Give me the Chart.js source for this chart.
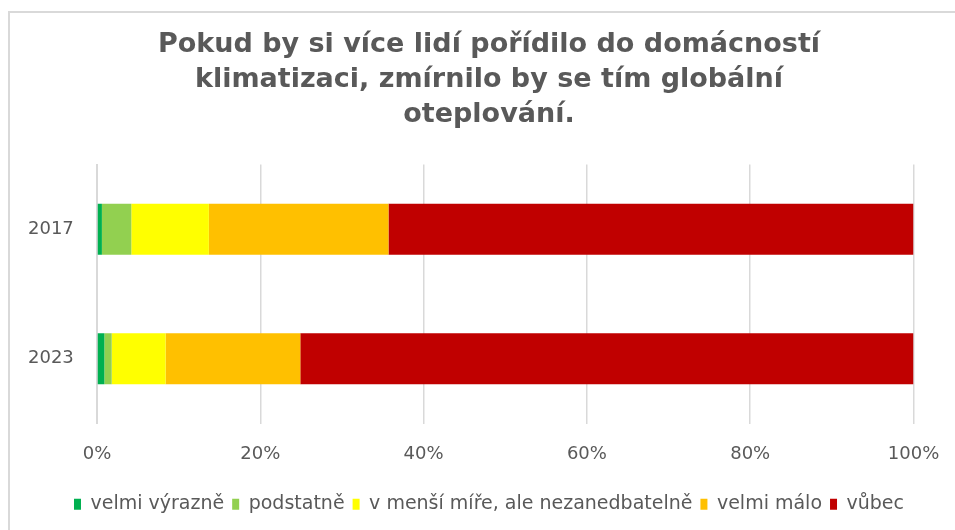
<!DOCTYPE html>
<html lang="cs">
<head>
<meta charset="utf-8">
<title>Klimatizace a globální oteplování</title>
<script src="https://cdn.jsdelivr.net/npm/chart.js@4/dist/chart.umd.min.js"></script>
<style>
  html, body { margin: 0; padding: 0; background: #ffffff; overflow: hidden; }
  #wrap { position: relative; width: 955px; height: 530px; }
  #frame { position: absolute; left: 8px; top: 11px; width: 1000px; height: 600px;
           border: 2px solid #d9d9d9; box-sizing: border-box; }
  #chart { position: absolute; left: 0; top: 0; }
</style>
</head>
<body>
<div id="wrap">
  <div id="frame"></div>
  <canvas id="chart" width="955" height="530"></canvas>
</div>
<script>
// Survey years (rows of the stacked bar chart)
const years = ['2017', '2023'];

// Answer shares in percent, one array per answer, ordered as the years above
const velmiVyrazne = [0.6, 0.9];
const podstatne    = [3.6, 0.9];
const vMensiMire   = [9.5, 6.6];
const velmiMalo    = [22.0, 16.5];
const vubec        = [64.3, 75.1];

const seriesNames  = ['velmi výrazně', 'podstatně', 'v menší míře, ale nezanedbatelně', 'velmi málo', 'vůbec'];
const seriesValues = [velmiVyrazne, podstatne, vMensiMire, velmiMalo, vubec];
const seriesColors = ['#00B050', '#92D050', '#FFFF00', '#FFC000', '#C00000'];

const titleLines = ['Pokud by si více lidí pořídilo do domácností',
                    'klimatizaci, zmírnilo by se tím globální',
                    'oteplování.'];

const textColor = '#595959';
const gridColor = '#d9d9d9';
const baseFont = 'DejaVu Sans';

const datasets = seriesNames.map((name, i) => ({
  label: name,
  data: seriesValues[i],
  backgroundColor: seriesColors[i],
  borderWidth: 0,
  categoryPercentage: 0.392,
  barPercentage: 1.0
}));

new Chart(document.getElementById('chart'), {
  type: 'bar',
  data: { labels: years, datasets },
  options: {
    indexAxis: 'y',
    responsive: false,
    animation: false,
    layout: { padding: { left: 64.5, right: 41.5, top: 0, bottom: 6.25 } },
    plugins: {
      tooltip: { enabled: false },
      title: {
        display: true,
        text: titleLines,
        color: textColor,
        font: { family: baseFont, size: 27, weight: 'bold', lineHeight: 1.3 },
        padding: { top: 27.5, bottom: 31.7 }
      },
      legend: {
        position: 'bottom',
        labels: {
          color: textColor,
          font: { family: baseFont, size: 19 },
          boxWidth: 7,
          boxHeight: 11,
          padding: 8
        }
      }
    },
    scales: {
      x: {
        stacked: true,
        min: 0,
        max: 100,
        ticks: {
          stepSize: 20,
          color: textColor,
          font: { family: baseFont, size: 18 },
          padding: 20,
          callback: v => v + '%'
        },
        grid: { color: gridColor, lineWidth: 1.5, drawTicks: false },
        border: { display: false },
        afterFit: s => {
          s.height = 63.25;
          // the end labels fit inside the layout padding already
          s.paddingLeft = 0;
          s.paddingRight = 0;
        }
      },
      y: {
        stacked: true,
        ticks: {
          color: textColor,
          font: { family: baseFont, size: 18 },
          mirror: true,
          padding: -69
        },
        grid: { display: false, drawTicks: false },
        border: { display: true, color: gridColor, width: 2 },
        afterFit: s => { s.width = 32.5; }
      }
    }
  }
});
</script>
</body>
</html>
